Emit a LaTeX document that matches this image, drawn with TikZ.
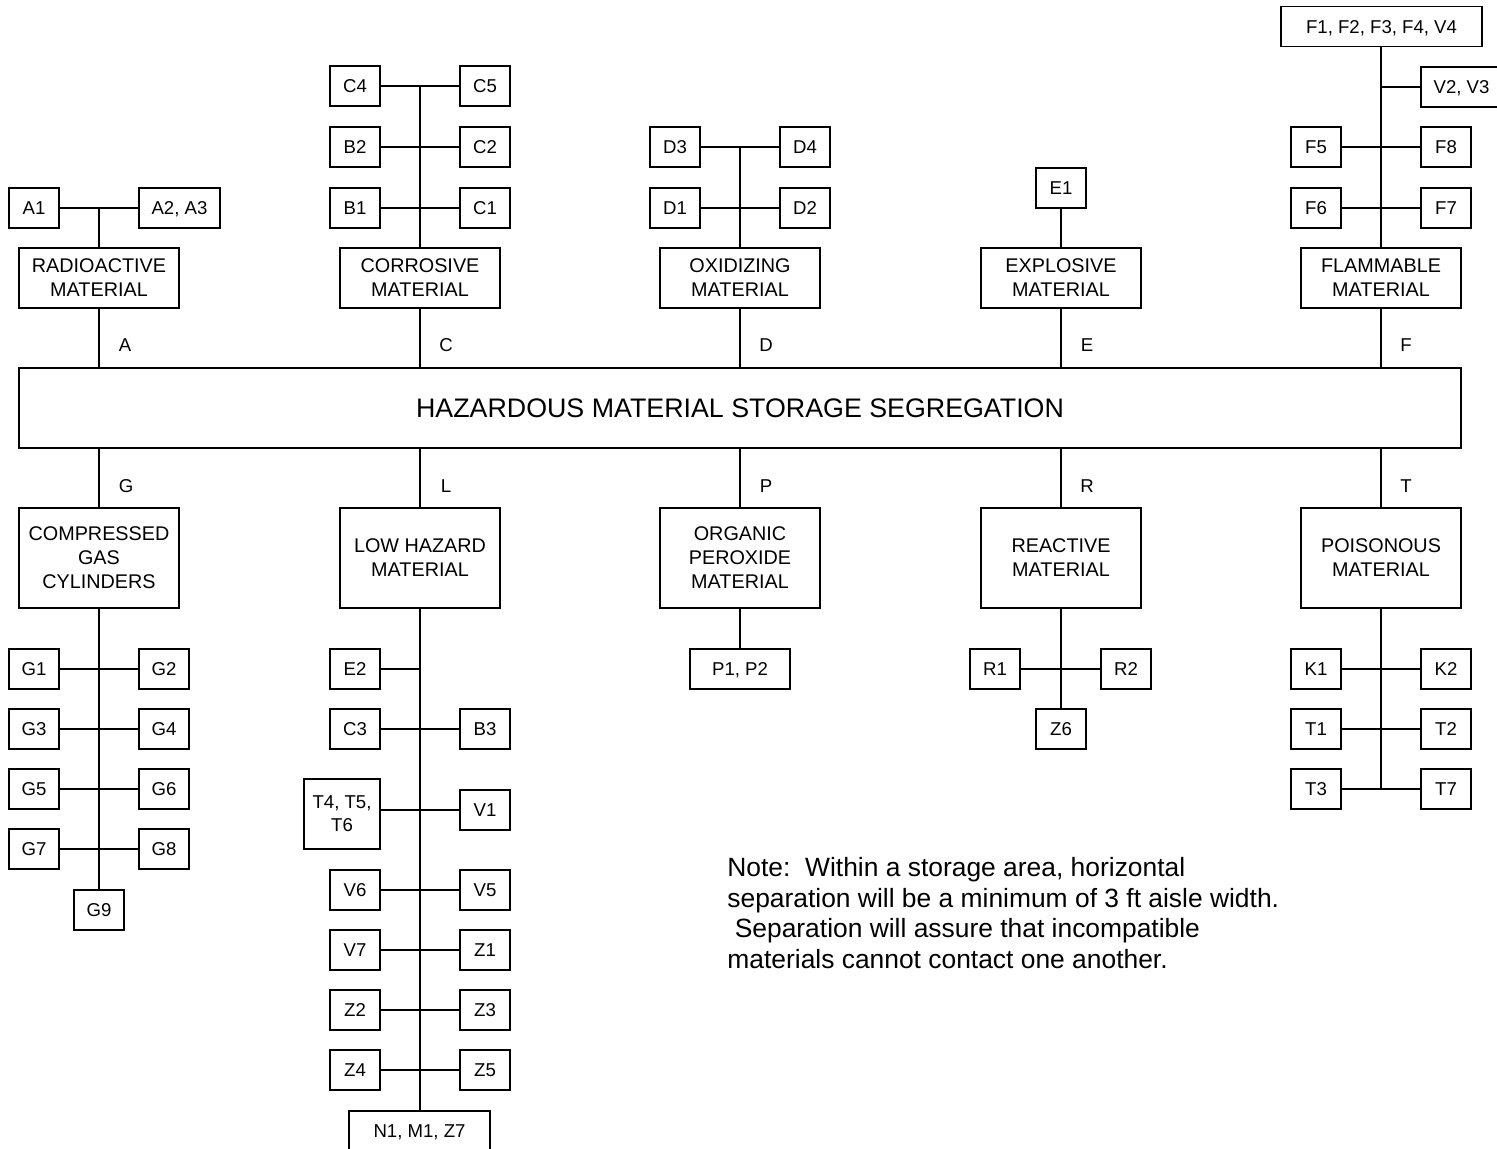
\documentclass[tikz,border=0pt]{standalone}
\usepackage{fontspec}
\setmainfont{Liberation Sans}
\usetikzlibrary{positioning}

\begin{document}
\begin{tikzpicture}[
      x=0.5pt, y=-0.5pt,
      box/.style={
        rectangle, draw, line width=0.7pt,
        minimum width=25pt, minimum height=20pt,
        inner sep=0pt, outer sep=0pt,
        font=\fontsize{9.3}{11.5}\selectfont
      },
      item/.style={box, text height=6.7pt, text depth=0pt},
      wide/.style={item, minimum width=#1},
      cat/.style={
        rectangle, draw, line width=0.7pt,
        minimum width=80pt, minimum height=30pt,
        inner sep=0pt, outer sep=0pt, align=center,
        font=\fontsize{9.9}{12}\selectfont
      },
      tall/.style={cat, minimum height=50pt},
      tag/.style={font=\fontsize{9.3}{11}\selectfont, inner sep=0pt},
      link/.style={line width=0.7pt}
    ]
      \useasboundingbox (0,0) rectangle (1497,1149);

      % Main block
      \node[cat, minimum width=721pt, minimum height=40pt,
            font=\fontsize{13.4}{16}\selectfont] (main) at (740,408)
            {HAZARDOUS MATERIAL STORAGE SEGREGATION};

      % Upper classes
      \node[cat] (rad) at (99,278) {RADIOACTIVE\\MATERIAL};
      \node[cat] (cor) at (420,278) {CORROSIVE\\MATERIAL};
      \node[cat] (oxi) at (740,278) {OXIDIZING\\MATERIAL};
      \node[cat] (exp) at (1061,278) {EXPLOSIVE\\MATERIAL};
      \node[cat] (flm) at (1381,278) {FLAMMABLE\\MATERIAL};

      % Lower classes
      \node[tall] (gas) at (99,558) {COMPRESSED\\GAS\\CYLINDERS};
      \node[tall] (low) at (420,558) {LOW HAZARD\\MATERIAL};
      \node[tall] (org) at (740,558) {ORGANIC\\PEROXIDE\\MATERIAL};
      \node[tall] (rea) at (1061,558) {REACTIVE\\MATERIAL};
      \node[tall] (poi) at (1381,558) {POISONOUS\\MATERIAL};

      % Links to main block
      \draw[link] (rad) -- (rad |- main.north);
      \draw[link] (cor) -- (cor |- main.north);
      \draw[link] (oxi) -- (oxi |- main.north);
      \draw[link] (exp) -- (exp |- main.north);
      \draw[link] (flm) -- (flm |- main.north);
      \draw[link] (gas) -- (gas |- main.south);
      \draw[link] (low) -- (low |- main.south);
      \draw[link] (org) -- (org |- main.south);
      \draw[link] (rea) -- (rea |- main.south);
      \draw[link] (poi) -- (poi |- main.south);

      % Class letters
      \node[tag] (ta) at (125,345) {A};
      \node[tag] (tc) at (446,345) {C};
      \node[tag] (td) at (766,345) {D};
      \node[tag] (te) at (1087,345) {E};
      \node[tag] (tf) at (1406,345) {F};
      \node[tag] (tg) at (126,486) {G};
      \node[tag] (tl) at (446,486) {L};
      \node[tag] (tp) at (766,486) {P};
      \node[tag] (tr) at (1087,486) {R};
      \node[tag] (tt) at (1406,486) {T};

      % Radioactive
      \node[item] (a1) at (34,208) {A1};
      \node[wide=40.5pt, right=40pt of a1] (a23) {A2, A3};
      \draw[link] (a1) -- (a23);
      \draw[link] (rad) -- (rad |- a1);

      % Corrosive
      \node[item] (c4) at (355,86) {C4};
      \node[item, right=40pt of c4] (c5) {C5};
      \node[item] (b2) at (355,147) {B2};
      \node[item, right=40pt of b2] (c2) {C2};
      \node[item] (b1) at (355,208) {B1};
      \node[item, right=40pt of b1] (c1) {C1};
      \draw[link] (c4) -- (c5);
      \draw[link] (b2) -- (c2);
      \draw[link] (b1) -- (c1);
      \draw[link] (cor) -- (cor |- c4);

      % Oxidizing
      \node[item] (d3) at (675,147) {D3};
      \node[item, right=40pt of d3] (d4) {D4};
      \node[item] (d1) at (675,208) {D1};
      \node[item, right=40pt of d1] (d2) {D2};
      \draw[link] (d3) -- (d4);
      \draw[link] (d1) -- (d2);
      \draw[link] (oxi) -- (oxi |- d3);

      % Explosive
      \node[item] (e1) at (1061,188) {E1};
      \draw[link] (exp) -- (e1);

      % Flammable
      \node[wide=100.5pt] (fall) at (1381.5,26.5) {F1, F2, F3, F4, V4};
      \node[wide=40.5pt, anchor=west] (v23) at (1421,87) {V2, V3};
      \node[item] (f5) at (1316,147) {F5};
      \node[item, right=40pt of f5] (f8) {F8};
      \node[item] (f6) at (1316,208) {F6};
      \node[item, right=40pt of f6] (f7) {F7};
      \draw[link] (f5) -- (f8);
      \draw[link] (f6) -- (f7);
      \draw[link] (v23) -- (v23 -| flm);
      \draw[link] (flm) -- (flm |- fall.south);

      % Compressed gas
      \node[item] (g1) at (34,669) {G1};
      \node[item, right=40pt of g1] (g2) {G2};
      \node[item] (g3) at (34,729) {G3};
      \node[item, right=40pt of g3] (g4) {G4};
      \node[item] (g5) at (34,789) {G5};
      \node[item, right=40pt of g5] (g6) {G6};
      \node[item] (g7) at (34,849) {G7};
      \node[item, right=40pt of g7] (g8) {G8};
      \node[item] (g9) at (99,910) {G9};
      \draw[link] (g1) -- (g2);
      \draw[link] (g3) -- (g4);
      \draw[link] (g5) -- (g6);
      \draw[link] (g7) -- (g8);
      \draw[link] (gas) -- (g9);

      % Low hazard
      \node[item] (e2) at (355,669) {E2};
      \node[item] (c3) at (355,729) {C3};
      \node[item, right=40pt of c3] (b3) {B3};
      \node[box, minimum width=38pt, minimum height=35pt, align=center]
        (t456) at (342,814) {T4, T5,\\T6};
      \node[item] (v1) at (485,810) {V1};
      \node[item] (v6) at (355,890) {V6};
      \node[item, right=40pt of v6] (v5) {V5};
      \node[item] (v7) at (355,950) {V7};
      \node[item, right=40pt of v7] (z1) {Z1};
      \node[item] (z2) at (355,1010) {Z2};
      \node[item, right=40pt of z2] (z3) {Z3};
      \node[item] (z4) at (355,1070) {Z4};
      \node[item, right=40pt of z4] (z5) {Z5};
      \node[wide=70.5pt] (nmz) at (419.5,1131) {N1, M1, Z7};
      \draw[link] (e2) -- (e2 -| low);
      \draw[link] (c3) -- (b3);
      \draw[link] (v1) -- (v1 -| t456.east);
      \draw[link] (v6) -- (v5);
      \draw[link] (v7) -- (z1);
      \draw[link] (z2) -- (z3);
      \draw[link] (z4) -- (z5);
      \draw[link] (low) -- (low |- nmz.north);

      % Organic peroxide
      \node[wide=50pt] (p12) at (740,669) {P1, P2};
      \draw[link] (org) -- (p12);

      % Reactive
      \node[item] (r1) at (995,669) {R1};
      \node[item, right=40.5pt of r1] (r2) {R2};
      \node[item] (z6) at (1061,729) {Z6};
      \draw[link] (r1) -- (r2);
      \draw[link] (rea) -- (z6);

      % Poisonous
      \node[item] (k1) at (1316,669) {K1};
      \node[item, right=40pt of k1] (k2) {K2};
      \node[item] (t1) at (1316,729) {T1};
      \node[item, right=40pt of t1] (t2) {T2};
      \node[item] (t3) at (1316,789) {T3};
      \node[item, right=40pt of t3] (t7) {T7};
      \draw[link] (k1) -- (k2);
      \draw[link] (t1) -- (t2);
      \draw[link] (t3) -- (t7);
      \draw[link] (poi) -- (poi |- t3);

      % Note
      \node[anchor=north west, inner sep=0pt, align=left,
            font=\fontsize{13.2}{15.25}\selectfont] (note) at (727,857)
        {Note:\ \ Within a storage area, horizontal\\
         separation will be a minimum of 3 ft aisle width.\\
         \hspace*{0.28em}Separation will assure that incompatible\\
         materials cannot contact one another.};
    \end{tikzpicture}
\end{document}
